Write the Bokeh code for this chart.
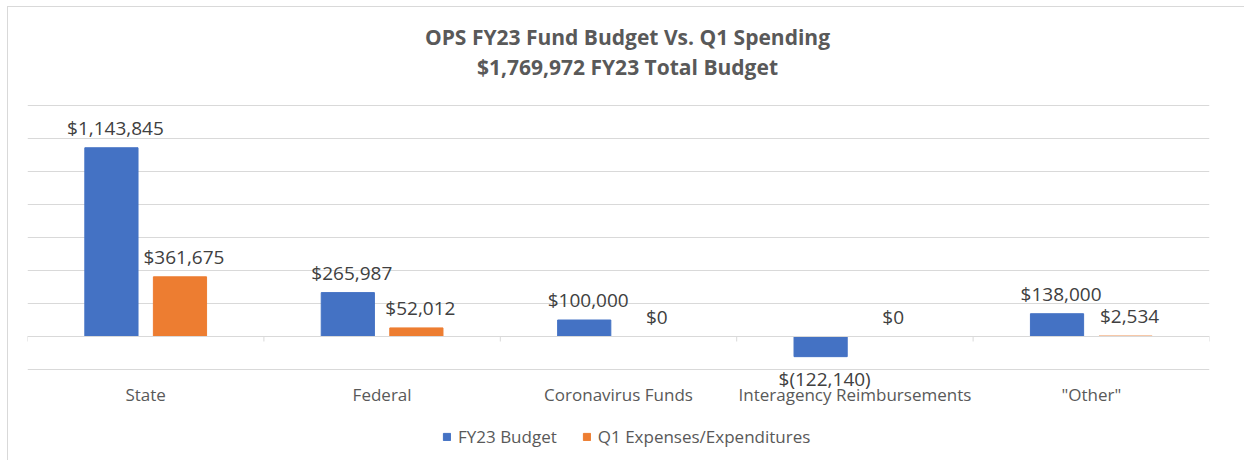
from bokeh.plotting import figure
from bokeh.models import (FactorRange, Range1d, ColumnDataSource, Legend, LegendItem,
                          Span, FixedTicker)
from bokeh.transform import dodge
from bokeh.core.properties import value
from bokeh.embed import file_html
from bokeh.resources import INLINE

categories = ["State", "Federal", "Coronavirus Funds", "Interagency Reimbursements", '"Other"']
budget = [1143845, 265987, 100000, -122140, 138000]
q1_spend = [361675, 52012, 0, 0, 2534]
series_names = ["FY23 Budget", "Q1 Expenses/Expenditures"]
title_lines = ["OPS FY23 Fund Budget Vs. Q1 Spending", "$1,769,972 FY23 Total Budget"]

# value axis (gridlines) definition
GRID_MIN, GRID_MAX, GRID_STEP = -200000, 1400000, 200000

BLUE = "#4472C4"
ORANGE = "#ED7D31"
GRID = "#D9D9D9"
TXT = "#595959"
LBL = "#404040"
FONT = "Open Sans"

# layout in pixels (figure content area is 1236 x 453)
FIG_W, FIG_H = 1236, 453
LEFT, RIGHT = 19, 35
TOP_PX, PLOT_PX = 98, 264          # gridded area starts 98px down and is 264px tall
BOT_PX = FIG_H - TOP_PX - PLOT_PX
UPP = (GRID_MAX - GRID_MIN) / PLOT_PX   # data units per pixel
Y_LO = GRID_MIN - BOT_PX * UPP
Y_HI = GRID_MAX + TOP_PX * UPP


def money(v):
    return "$({:,})".format(-v) if v < 0 else "${:,}".format(v)


def label_src(vals, neg):
    idx = [i for i, v in enumerate(vals) if (v < 0) == neg]
    return ColumnDataSource(dict(
        cat=[categories[i] for i in idx],
        val=[vals[i] for i in idx],
        txt=[money(vals[i]) for i in idx],
    ))


p = figure(x_range=FactorRange(*categories), y_range=Range1d(Y_LO, Y_HI),
           frame_width=FIG_W - LEFT - RIGHT, frame_height=FIG_H,
           output_backend="svg", toolbar_location=None,
           min_border_left=LEFT, min_border_right=RIGHT, min_border_top=0, min_border_bottom=0)
p.styles = {"border-left": "1px solid #D9D9D9", "border-top": "1px solid #D9D9D9",
            "margin-left": "7px", "margin-top": "6px"}
p.x_range.range_padding = 0
p.outline_line_color = None
p.xaxis.visible = False
p.yaxis.visible = False
p.xgrid.visible = False
p.ygrid.ticker = FixedTicker(ticks=list(range(GRID_MIN, GRID_MAX + 1, GRID_STEP)))
p.ygrid.grid_line_color = GRID

# zero line and category boundary ticks
p.add_layout(Span(location=0, dimension="width", line_color=GRID, line_width=1))
tick_len = 5 * UPP
tick_src = ColumnDataSource(dict(cat=categories, y0=[0] * len(categories),
                                 y1=[-tick_len] * len(categories)))
end_src = ColumnDataSource(dict(cat=categories[-1:], y0=[0], y1=[-tick_len]))
p.segment(x0=dodge("cat", -0.5, range=p.x_range), x1=dodge("cat", -0.5, range=p.x_range),
          y0="y0", y1="y1", source=tick_src, line_color=GRID, line_width=1)
p.segment(x0=dodge("cat", 0.5, range=p.x_range), x1=dodge("cat", 0.5, range=p.x_range),
          y0="y0", y1="y1", source=end_src, line_color=GRID, line_width=1)

OFF = 0.145
W = 0.225
renderers = []
for vals, off, col in ((budget, -OFF, BLUE), (q1_spend, OFF, ORANGE)):
    s = ColumnDataSource(dict(cat=categories, val=vals))
    r = p.vbar(x=dodge("cat", off, range=p.x_range), top="val", bottom=0, width=W,
               source=s, fill_color=col, line_color=col)
    renderers.append(r)
    for neg, yo in ((False, -20), (True, 22)):
        p.text(x=dodge("cat", off, range=p.x_range), y="val", text="txt", y_offset=yo,
               x_offset=4, source=label_src(vals, neg), text_align="center",
               text_baseline="middle", text_font=value(FONT), text_font_size="19px",
               text_color=LBL)

# category labels under the gridded area
cat_src = ColumnDataSource(dict(cat=categories, y=[GRID_MIN] * len(categories)))
p.text(x="cat", y="y", text="cat", source=cat_src, y_offset=25,
       text_align="center", text_baseline="middle",
       text_font=value(FONT), text_font_size="17px", text_color=TXT)

# two-line chart title
mid = categories[len(categories) // 2]
title_src = ColumnDataSource(dict(cat=[mid, mid], y=[GRID_MAX, GRID_MAX], txt=title_lines))
title_src.data["yo"] = [-69, -39]
p.text(x=dodge("cat", 0, range=p.x_range), y="y", text="txt", y_offset="yo", x_offset=9,
       source=title_src, text_align="center", text_baseline="middle",
       text_font=value(FONT), text_font_size="21px", text_font_style="bold", text_color=TXT)

legend_w = 372
legend = Legend(items=[LegendItem(label=series_names[0], renderers=[renderers[0]]),
                       LegendItem(label=series_names[1], renderers=[renderers[1]])],
                orientation="horizontal",
                location=((FIG_W - LEFT - RIGHT) / 2 + 10 - legend_w / 2, 12),
                glyph_width=9, glyph_height=9, label_standoff=7, label_text_font=FONT,
                label_text_font_size="17px", label_text_color=TXT,
                spacing=25, padding=0, margin=0, border_line_color=None,
                background_fill_alpha=0)
p.add_layout(legend)

open("out.html", "w").write(file_html(p, INLINE))
